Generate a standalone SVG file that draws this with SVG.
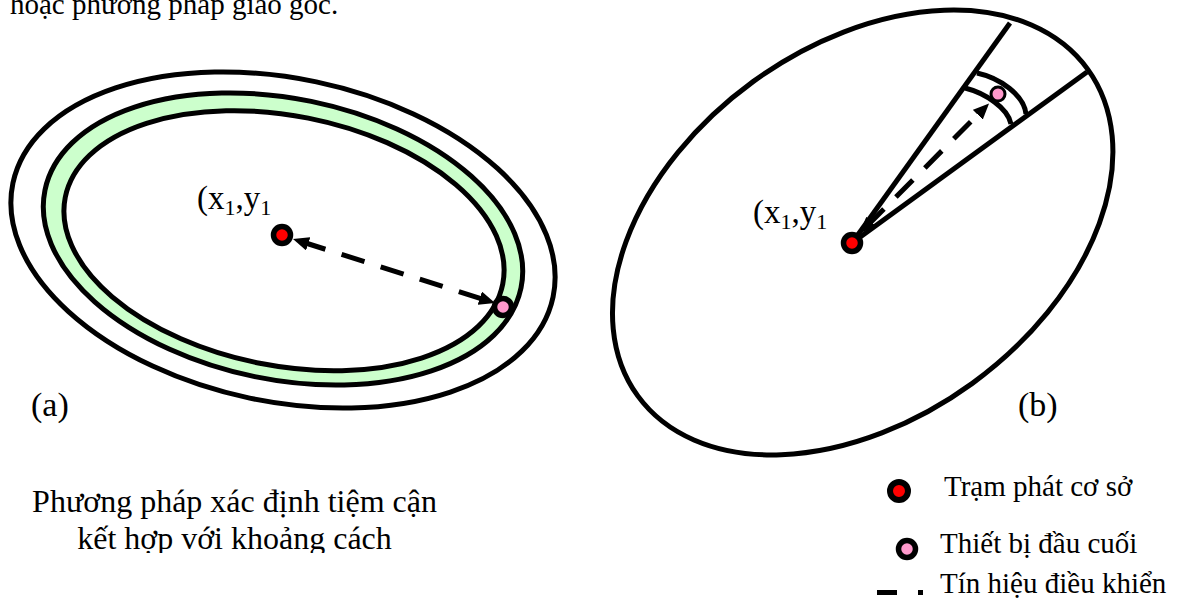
<svg xmlns="http://www.w3.org/2000/svg" width="1178" height="605" viewBox="0 0 1178 605">
  <style>
    .t { font-family: "Liberation Serif", "Times New Roman", serif; fill: #000; }
    .body { font-size: 29px; }
    .cap { font-size: 32px; }
    .tag { font-size: 34px; }
    .lbl { font-size: 33px; }
    .sub { font-size: 22px; }
    .ring { stroke: #000; stroke-width: 5; }
    .bs { fill: #ff0000; stroke: #000; stroke-width: 5.5; }
    .ue { fill: #ff99cc; stroke: #000; stroke-width: 5.5; }
    .ue-thin { fill: #ff99cc; stroke: #000; stroke-width: 3; }
    .edge { fill: none; stroke: #000; stroke-width: 5; }
    .sig { fill: none; stroke: #000; stroke-width: 5; stroke-dasharray: 24 17; }
  </style>
  <defs>
    <marker id="ah" viewBox="0 0 16 14" refX="6" refY="7" markerWidth="16" markerHeight="14" markerUnits="userSpaceOnUse" orient="auto-start-reverse">
      <path d="M0,0 L16,7 L0,14 z" fill="#000"/>
    </marker>
    <clipPath id="capclip">
      <rect x="0" y="440" width="600" height="113"/>
    </clipPath>
  </defs>

  <rect width="1178" height="605" fill="#fff"/>

  <text class="t body" x="10" y="14">hoặc phương pháp giao góc.</text>

  <!-- (a) proximity + distance -->
  <g id="zone-a">
    <ellipse class="ring" cx="283" cy="240" rx="276" ry="161.6" fill="#fff" transform="rotate(11.9 283 240)"/>
    <ellipse class="ring" cx="283" cy="239" rx="243" ry="140.5" fill="#ccffcc" transform="rotate(11.6 283 239)"/>
    <ellipse class="ring" cx="284" cy="240.7" rx="223" ry="125" fill="#fff" transform="rotate(11.2 284 240.7)"/>
  </g>

  <!-- (b) angle of arrival -->
  <g id="zone-b">
    <ellipse class="ring" cx="862.7" cy="232.5" rx="278" ry="186.5" fill="#fff" transform="rotate(-36 862.7 232.5)"/>
    <line class="edge" x1="852" y1="243" x2="1010" y2="23"/>
    <line class="edge" x1="852" y1="243" x2="1087" y2="72"/>
    <path class="edge" d="M977,73 C1000,78 1024,95 1026,114"/>
    <path class="edge" d="M965,88 C985,93 1008,108 1011,124"/>
  </g>

  <g id="connectors">
    <line class="sig" x1="302.5" y1="242" x2="485.5" y2="300" marker-start="url(#ah)" marker-end="url(#ah)"/>
    <line class="sig" x1="867" y1="226" x2="982" y2="110.5" marker-start="url(#ah)" marker-end="url(#ah)"/>
  </g>

  <g id="bs-a"><circle class="bs" cx="282" cy="235" r="8.5"/></g>
  <g id="ue-a"><circle class="ue" cx="503" cy="307" r="8.5"/></g>
  <g id="bs-b"><circle class="bs" cx="852" cy="243" r="8.5"/></g>
  <g id="ue-b"><circle class="ue-thin" cx="998" cy="94" r="7"/></g>

  <g id="labels">
    <text class="t lbl" x="197" y="209">(x<tspan class="sub" dy="6">1</tspan><tspan dy="-6">,y</tspan><tspan class="sub" dy="6">1</tspan></text>
    <text class="t lbl" x="753" y="223">(x<tspan class="sub" dy="6">1</tspan><tspan dy="-6">,y</tspan><tspan class="sub" dy="6">1</tspan></text>
    <text class="t tag" x="31" y="416">(a)</text>
    <text class="t tag" x="1018" y="416">(b)</text>
  </g>

  <g id="caption" clip-path="url(#capclip)">
    <text class="t cap" x="234.5" y="512" text-anchor="middle">Phương pháp xác định tiệm cận</text>
    <text class="t cap" x="234.5" y="549" text-anchor="middle">kết hợp với khoảng cách</text>
  </g>

  <g id="legend">
    <g id="legend-bs">
      <circle class="bs" cx="899" cy="491" r="9" style="stroke-width:6"/>
      <text class="t body" x="944" y="496">Trạm phát cơ sở</text>
    </g>
    <g id="legend-ue">
      <circle class="ue" cx="907" cy="549" r="8.5"/>
      <text class="t body" x="940" y="553">Thiết bị đầu cuối</text>
    </g>
    <g id="legend-sig">
      <line x1="877" y1="592.5" x2="923" y2="592.5" stroke="#000" stroke-width="5" stroke-dasharray="20 21 5 100"/>
      <text class="t body" x="940" y="593">Tín hiệu điều khiển</text>
    </g>
  </g>
</svg>
